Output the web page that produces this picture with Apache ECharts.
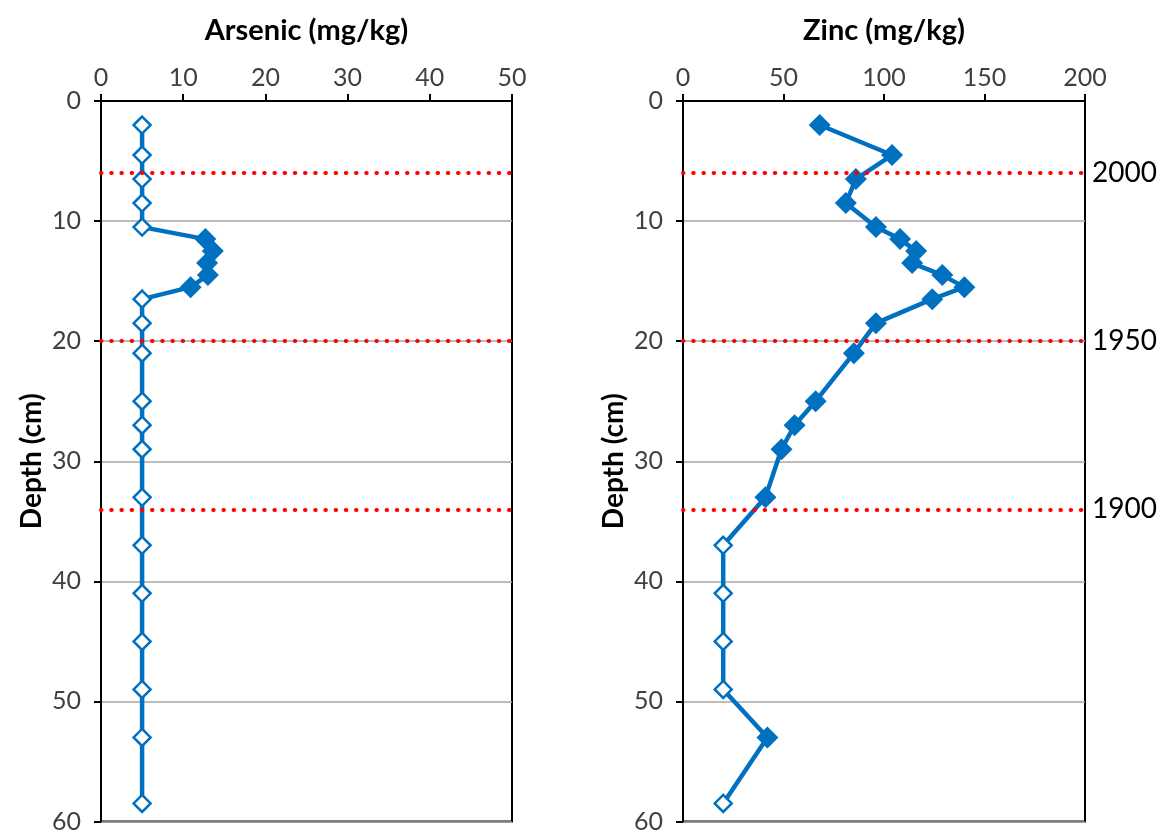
<!DOCTYPE html>
<html>
<head>
<meta charset="utf-8">
<title>Arsenic and Zinc depth profiles</title>
<script src="https://cdn.jsdelivr.net/npm/echarts@6/dist/echarts.min.js"></script>
<style>
  html, body { margin: 0; padding: 0; background: #fff; }
  #chart { width: 1161px; height: 834px; }
</style>
</head>
<body>
<div id="chart"></div>
<script>
// Sample depths (cm) shared by both cores
const depths = [2, 4.5, 6.5, 8.5, 10.5, 11.5, 12.5, 13.5, 14.5, 15.5, 16.5, 18.5, 21, 25, 27, 29, 33, 37, 41, 45, 49, 53, 58.5];

// Concentrations (mg/kg); values at the detection limit are drawn hollow
const arsenic = [5, 5, 5, 5, 5, 12.7, 13.6, 12.9, 13.0, 10.9, 5, 5, 5, 5, 5, 5, 5, 5, 5, 5, 5, 5, 5];
const zinc = [68, 104, 86, 81, 96, 108, 116, 114, 129, 140, 124, 96, 85, 66, 55.5, 49, 41, 20, 20, 20, 20, 42, 20];
const arsenicDetectionLimit = 5;
const zincDetectionLimit = 20;

// Dated horizons
const horizonDepths = [6, 20, 34];
const horizonYears = ['2000', '1950', '1900'];

// Axis ranges
const depthRange = [0, 60, 10];
const arsenicRange = [0, 50, 10];
const zincRange = [0, 200, 50];

const BLUE = '#0070C0';
const FONT = 'Lato';

const chart = echarts.init(document.getElementById('chart'), null, { renderer: 'canvas' });

function profileData(values, limit) {
  return depths.map((d, i) => {
    const hollow = values[i] <= limit;
    return {
      value: [values[i], d],
      symbolSize: hollow ? 17 : 22,
      itemStyle: hollow
        ? { color: '#fff', borderColor: BLUE, borderWidth: 2.5 }
        : { color: BLUE, borderColor: BLUE, borderWidth: 0 }
    };
  });
}

function xAxisFor(grid, name, range) {
  return {
    gridIndex: grid,
    type: 'value',
    position: 'top',
    min: range[0], max: range[1], interval: range[2],
    name: name,
    nameLocation: 'middle',
    nameGap: 56,
    nameTextStyle: { fontFamily: FONT, fontWeight: 'bold', fontSize: 29, color: '#000' },
    axisLine: { show: true, onZero: false, lineStyle: { color: '#000', width: 2 } },
    axisTick: { show: true, inside: false, length: 7, lineStyle: { color: '#000', width: 2 } },
    axisLabel: { fontFamily: FONT, fontSize: 25, color: '#404040', margin: 11 },
    splitLine: { show: false }
  };
}

function yAxisFor(grid) {
  return {
    gridIndex: grid,
    type: 'value',
    inverse: true,
    min: depthRange[0], max: depthRange[1], interval: depthRange[2],
    name: 'Depth (cm)',
    nameLocation: 'middle',
    nameGap: 55,
    nameRotate: 90,
    nameTextStyle: { fontFamily: FONT, fontWeight: 'bold', fontSize: 28, color: '#000' },
    axisLine: { show: true, onZero: false, lineStyle: { color: '#000', width: 2 } },
    axisTick: { show: true, inside: false, length: 7, lineStyle: { color: '#000', width: 2 } },
    axisLabel: { fontFamily: FONT, fontSize: 25, color: '#404040', margin: 20 },
    splitLine: { show: true, lineStyle: { color: '#A6A6A6', width: 1.5 } }
  };
}

function horizonSeries(grid, withLabels) {
  return {
    type: 'line',
    xAxisIndex: grid,
    yAxisIndex: grid,
    data: [],
    z: 1,
    silent: true,
    markLine: {
      silent: true,
      symbol: 'none',
      animation: false,
      lineStyle: { color: '#FF0000', width: 4, type: [0.5, 9.7], cap: 'round' },
      label: {
        show: withLabels,
        position: 'end',
        distance: 7,
        fontFamily: FONT,
        fontSize: 28,
        color: '#000'
      },
      data: horizonDepths.map((d, i) => ({
        yAxis: d,
        label: { formatter: horizonYears[i] }
      }))
    }
  };
}

function profileSeries(grid, values, limit) {
  return {
    type: 'line',
    xAxisIndex: grid,
    yAxisIndex: grid,
    z: 3,
    symbol: 'diamond',
    showAllSymbol: true,
    lineStyle: { color: BLUE, width: 4.5 },
    itemStyle: { color: BLUE },
    data: profileData(values, limit)
  };
}

const option = {
  backgroundColor: '#fff',
  animation: false,
  grid: [
    { left: 101, top: 101, width: 411, height: 721, show: true, borderColor: '#000', borderWidth: 2, backgroundColor: 'transparent' },
    { left: 683, top: 101, width: 402, height: 721, show: true, borderColor: '#000', borderWidth: 2, backgroundColor: 'transparent' }
  ],
  xAxis: [
    xAxisFor(0, 'Arsenic (mg/kg)', arsenicRange),
    xAxisFor(1, 'Zinc (mg/kg)', zincRange)
  ],
  yAxis: [yAxisFor(0), yAxisFor(1)],
  series: [
    horizonSeries(0, false),
    horizonSeries(1, true),
    profileSeries(0, arsenic, arsenicDetectionLimit),
    profileSeries(1, zinc, zincDetectionLimit)
  ]
};

chart.setOption(option);
</script>
</body>
</html>
